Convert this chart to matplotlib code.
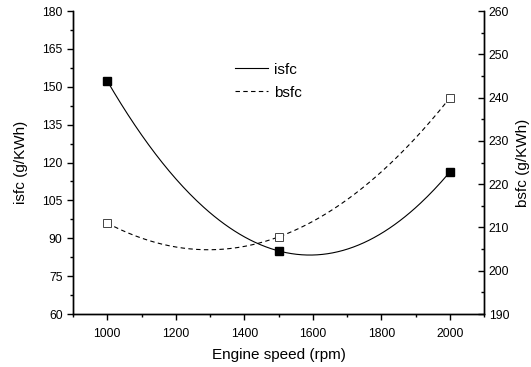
import numpy as np
import matplotlib
matplotlib.use('Agg')
import matplotlib.pyplot as plt
from matplotlib.ticker import MultipleLocator

plt.rcParams['font.family'] = ['Liberation Sans', 'DejaVu Sans']

speed = [1000, 1500, 2000]
isfc = [152.3, 85.0, 116.2]
bsfc = [211.0, 207.8, 239.9]

fig = plt.figure(figsize=(5.31, 3.67), dpi=100)
ax = fig.add_axes([0.1375, 0.1444, 0.774, 0.8256])
ax2 = ax.twinx()

# smooth curves through the three points
xs = np.linspace(speed[0], speed[-1], 200)
ci = np.polyfit(speed, isfc, 2)
cb = np.polyfit(speed, bsfc, 2)

ax.plot(xs, np.polyval(ci, xs), color='black', lw=0.8, label='isfc')
ax.plot(speed, isfc, 's', color='black', ms=5.5, mfc='black')
ax2.plot(xs, np.polyval(cb, xs), color='black', lw=0.8, ls=(0, (4, 3)), label='bsfc')
ax2.plot(speed, bsfc, 's', color='#444444', ms=5.5, mfc='white', mew=0.7)

ax.set_xlim(900, 2100)
ax.set_ylim(60, 180)
ax2.set_ylim(190, 260)
ax.xaxis.set_major_locator(MultipleLocator(200))
ax.xaxis.set_minor_locator(MultipleLocator(100))
ax.yaxis.set_major_locator(MultipleLocator(15))
ax.yaxis.set_minor_locator(MultipleLocator(7.5))
ax2.yaxis.set_major_locator(MultipleLocator(10))
ax2.yaxis.set_minor_locator(MultipleLocator(5))

for a in (ax, ax2):
    a.spines['top'].set_visible(False)
    for s in a.spines.values():
        s.set_linewidth(1.0)

ax.tick_params(axis='both', which='major', direction='out', length=4, width=1, labelsize=8.8)
ax.tick_params(axis='x', which='major', pad=6)
ax.tick_params(axis='both', which='minor', direction='out', length=2.5, width=1)
ax2.tick_params(axis='y', which='major', direction='in', length=4, width=1, labelsize=8.8)
ax2.tick_params(axis='y', which='minor', direction='in', length=2.5, width=1)

ax.set_xlabel('Engine speed (rpm)', fontsize=11, labelpad=6)
ax.set_ylabel('isfc (g/KWh)', fontsize=11, labelpad=10)
ax2.set_ylabel('bsfc (g/KWh)', fontsize=11, labelpad=5)

h1, l1 = ax.get_legend_handles_labels()
h2, l2 = ax2.get_legend_handles_labels()
ax.legend(h1 + h2, l1 + l2, loc='upper left', bbox_to_anchor=(0.36, 0.875),
          frameon=False, fontsize=11, handlelength=2.2, handletextpad=0.4,
          labelspacing=0.6)

fig.savefig('out.png', dpi=100)
